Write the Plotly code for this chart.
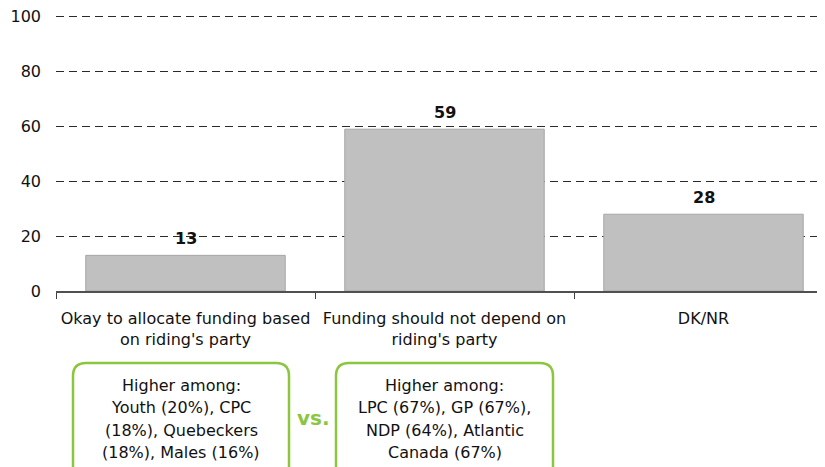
import plotly.graph_objects as go

categories = ["Okay to allocate funding based<br>on riding's party",
              "Funding should not depend on<br>riding's party",
              "DK/NR"]
values = [13, 59, 28]
y_ticks = [0, 20, 40, 60, 80, 100]
box_left_lines = ["Higher among:", "Youth (20%), CPC", "(18%), Quebeckers", "(18%), Males (16%)"]
box_right_lines = ["Higher among:", "LPC (67%), GP (67%),", "NDP (64%), Atlantic", "Canada (67%)"]
vs_text = "vs."

# page body has an 8px margin: work in reference pixels, shift figure by -8
OFF = 8
W, H = 825 - OFF, 467 - OFF
Y_MAX = 101.0
UNIT = 2.74                      # px per y unit
PLOT_BOTTOM = 291                # reference px
PLOT_LEFT = 56
PH = Y_MAX * UNIT
PW = 825 - PLOT_LEFT
L = PLOT_LEFT - OFF
T = PLOT_BOTTOM - PH - OFF
B = H - (PLOT_BOTTOM - OFF)
R = 0
GREEN = "#8CC63F"
FONT = "DejaVu Sans"

def px(x):
    return (x - PLOT_LEFT) / PW

def py(y):
    return (PLOT_BOTTOM - y) / PH

fig = go.Figure()
fig.add_trace(go.Bar(
    x=categories, y=values, width=0.77,
    marker=dict(color="#C0C0C0", line=dict(color="#A6A6A6", width=1)),
    hoverinfo="skip",
))

annotations = []
for c, v in zip(categories, values):
    annotations.append(dict(x=c, y=v, xref="x", yref="y", text=f"<b>{v}</b>",
                            showarrow=False, yanchor="bottom", yshift=5,
                            font=dict(family=FONT, size=16, color="#111111")))

def rounded_box(x0, x1, top, bottom, r):
    return ("M {a},{b} L {a},{c} Q {a},{d} {e},{d} L {f},{d} Q {g},{d} {g},{c} L {g},{b}"
            .format(a=px(x0), b=py(bottom), c=py(top + r), d=py(top),
                    e=px(x0 + r), f=px(x1 - r), g=px(x1)))

shapes = [
    dict(type="path", xref="paper", yref="paper",
         path=rounded_box(73, 289, 363, 500, 13),
         line=dict(color=GREEN, width=2.5)),
    dict(type="path", xref="paper", yref="paper",
         path=rounded_box(336, 553, 363, 500, 13),
         line=dict(color=GREEN, width=2.5)),
]

line_ys = [385, 407.5, 430, 452]
for cx, lines in ((181, box_left_lines), (444.5, box_right_lines)):
    for ly, t in zip(line_ys, lines):
        annotations.append(dict(x=px(cx), y=py(ly), xref="paper", yref="paper",
                                text=t, showarrow=False, xanchor="center", yanchor="middle",
                                font=dict(family=FONT, size=16, color="#111111")))

annotations.append(dict(x=px(313), y=py(418), xref="paper", yref="paper",
                        text=f"<b>{vs_text}</b>", showarrow=False,
                        xanchor="center", yanchor="middle",
                        font=dict(family=FONT, size=20, color=GREEN)))

fig.update_layout(
    width=W, height=H,
    margin=dict(l=L, r=R, t=T, b=B, pad=0, autoexpand=False),
    paper_bgcolor="white", plot_bgcolor="white",
    showlegend=False,
    font=dict(family=FONT, size=16, color="#111111"),
    annotations=annotations,
    shapes=shapes,
)
fig.update_xaxes(
    type="category",
    range=[-0.5, -0.5 + PW / 259.0],
    tickson="boundaries", ticks="outside", ticklen=6, tickcolor="#404040", tickwidth=1,
    showline=True, linecolor="#505050", linewidth=2,
    showgrid=False, zeroline=False, automargin=False,
    ticklabelstandoff=12,
    tickfont=dict(family=FONT, size=16, color="#111111"),
    fixedrange=True,
)
fig.update_yaxes(
    range=[0, Y_MAX], tickmode="array", tickvals=y_ticks,
    showgrid=True, gridcolor="#2a2a2a", gridwidth=1, griddash="8px,5px",
    zeroline=False, showline=False, ticks="", automargin=False,
    ticklabelstandoff=14, ticklabeloverflow="allow",
    tickfont=dict(family=FONT, size=16, color="#111111"),
    fixedrange=True,
)

fig.write_html("out.html")
